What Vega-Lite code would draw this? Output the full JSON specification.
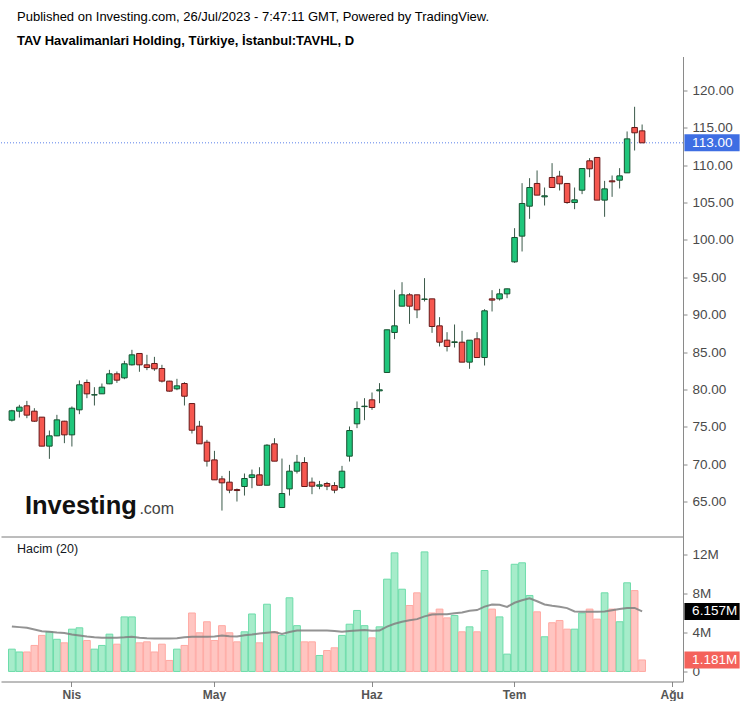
{
"$schema":"https://vega.github.io/schema/vega-lite/v6.json",
"background":"white",
"padding":{"top":10.5,"left":0,"right":0,"bottom":0},
"spacing":0,
"config":{"view":{"stroke":null},"font":"Liberation Sans","axis":{"grid":false,"domainColor":"#8a8a8a","tickColor":"#8a8a8a","labelColor":"#4a4a4a","labelFont":"Liberation Sans","labelFontSize":13.5,"tickSize":4}},
"title":{"text":"Published on Investing.com, 26/Jul/2023 - 7:47:11 GMT, Powered by TradingView.","subtitle":"TAV Havalimanlari Holding, Türkiye, İstanbul:TAVHL, D","anchor":"start","frame":"group","dx":16,"font":"Liberation Sans","fontSize":13,"fontWeight":"normal","color":"#000000","subtitleFont":"Liberation Sans","subtitleFontSize":13,"subtitleFontWeight":"bold","subtitleColor":"#000000","subtitlePadding":11,"offset":9},
"datasets":{"ohlc":[
{"date":"2023-03-22","open":75.89,"high":77.27,"low":75.71,"close":77.14,"volume":2290000,"ma":4620000},
{"date":"2023-03-23","open":77.09,"high":77.94,"low":76.24,"close":77.63,"volume":2000000,"ma":4550000},
{"date":"2023-03-24","open":77.81,"high":78.47,"low":76.15,"close":76.56,"volume":2000000,"ma":4480000},
{"date":"2023-03-27","open":77.09,"high":77.49,"low":75.66,"close":75.75,"volume":2670000,"ma":4300000},
{"date":"2023-03-28","open":76.29,"high":76.3,"low":72.4,"close":72.41,"volume":3700000,"ma":4120000},
{"date":"2023-03-29","open":72.41,"high":74.5,"low":70.71,"close":73.79,"volume":4070000,"ma":4080000},
{"date":"2023-03-30","open":73.79,"high":76.6,"low":73.75,"close":75.93,"volume":3300000,"ma":4000000},
{"date":"2023-03-31","open":75.75,"high":75.8,"low":72.81,"close":73.92,"volume":2940000,"ma":3950000},
{"date":"2023-04-03","open":73.92,"high":77.72,"low":72.36,"close":77.49,"volume":4340000,"ma":3800000},
{"date":"2023-04-04","open":77.27,"high":81.2,"low":76.69,"close":80.62,"volume":4480000,"ma":3700000},
{"date":"2023-04-05","open":80.93,"high":81.33,"low":78.83,"close":79.41,"volume":3180000,"ma":3580000},
{"date":"2023-04-06","open":79.25,"high":80.3,"low":77.85,"close":79.3,"volume":2290000,"ma":3500000},
{"date":"2023-04-07","open":79.41,"high":80.79,"low":79.4,"close":80.3,"volume":2670000,"ma":3450000},
{"date":"2023-04-10","open":80.75,"high":82.62,"low":80.7,"close":82.09,"volume":3830000,"ma":3450000},
{"date":"2023-04-11","open":82.09,"high":82.4,"low":80.88,"close":81.24,"volume":2800000,"ma":3470000},
{"date":"2023-04-12","open":81.55,"high":83.83,"low":81.37,"close":83.43,"volume":5600000,"ma":3500000},
{"date":"2023-04-13","open":83.29,"high":85.3,"low":83.2,"close":84.63,"volume":5600000,"ma":3550000},
{"date":"2023-04-14","open":84.81,"high":84.81,"low":82.36,"close":83.29,"volume":2940000,"ma":3450000},
{"date":"2023-04-17","open":83.29,"high":84.63,"low":82.58,"close":82.93,"volume":3040000,"ma":3400000},
{"date":"2023-04-18","open":83.47,"high":84.36,"low":82.49,"close":82.76,"volume":2000000,"ma":3380000},
{"date":"2023-04-19","open":82.8,"high":83.29,"low":80.93,"close":81.11,"volume":2800000,"ma":3380000},
{"date":"2023-04-20","open":81.11,"high":81.15,"low":79.7,"close":79.77,"volume":1130000,"ma":3380000},
{"date":"2023-04-24","open":80.08,"high":81.42,"low":79.9,"close":80.48,"volume":2290000,"ma":3420000},
{"date":"2023-04-25","open":80.79,"high":80.97,"low":77.85,"close":79.09,"volume":2670000,"ma":3500000},
{"date":"2023-04-26","open":78.11,"high":78.11,"low":74.1,"close":74.54,"volume":6000000,"ma":3550000},
{"date":"2023-04-27","open":75.08,"high":75.79,"low":72.72,"close":72.72,"volume":3970000,"ma":3550000},
{"date":"2023-04-28","open":72.94,"high":73.25,"low":69.68,"close":70.4,"volume":5100000,"ma":3550000},
{"date":"2023-05-02","open":70.57,"high":71.78,"low":67.9,"close":67.9,"volume":3180000,"ma":3600000},
{"date":"2023-05-03","open":68.03,"high":68.43,"low":63.79,"close":67.5,"volume":4700000,"ma":3690000},
{"date":"2023-05-04","open":67.59,"high":69.1,"low":66.11,"close":66.52,"volume":3970000,"ma":3620000},
{"date":"2023-05-05","open":66.6,"high":66.74,"low":65.0,"close":66.47,"volume":3040000,"ma":3600000},
{"date":"2023-05-08","open":67.01,"high":68.75,"low":65.8,"close":68.08,"volume":4070000,"ma":3720000},
{"date":"2023-05-09","open":68.21,"high":69.28,"low":66.78,"close":68.57,"volume":5900000,"ma":3800000},
{"date":"2023-05-10","open":68.57,"high":69.59,"low":67.15,"close":67.18,"volume":2940000,"ma":3900000},
{"date":"2023-05-11","open":67.18,"high":72.67,"low":67.18,"close":72.54,"volume":6900000,"ma":3970000},
{"date":"2023-05-12","open":72.72,"high":73.47,"low":70.4,"close":70.4,"volume":4070000,"ma":4050000},
{"date":"2023-05-15","open":64.2,"high":70.75,"low":64.2,"close":66.07,"volume":3700000,"ma":3850000},
{"date":"2023-05-16","open":66.69,"high":69.91,"low":65.8,"close":69.06,"volume":7560000,"ma":4050000},
{"date":"2023-05-17","open":69.06,"high":71.24,"low":68.75,"close":70.26,"volume":4700000,"ma":4200000},
{"date":"2023-05-18","open":70.22,"high":70.93,"low":67.01,"close":67.01,"volume":3040000,"ma":4200000},
{"date":"2023-05-22","open":67.59,"high":68.21,"low":65.98,"close":67.05,"volume":3040000,"ma":4200000},
{"date":"2023-05-23","open":67.05,"high":67.76,"low":66.65,"close":67.23,"volume":1640000,"ma":4200000},
{"date":"2023-05-24","open":67.41,"high":67.63,"low":66.52,"close":67.05,"volume":2150000,"ma":4200000},
{"date":"2023-05-25","open":67.14,"high":67.59,"low":66.11,"close":66.52,"volume":2430000,"ma":4150000},
{"date":"2023-05-26","open":66.87,"high":69.77,"low":66.69,"close":69.06,"volume":3700000,"ma":4070000},
{"date":"2023-05-29","open":71.07,"high":75.04,"low":70.35,"close":74.5,"volume":4850000,"ma":4150000},
{"date":"2023-05-30","open":75.4,"high":78.39,"low":74.82,"close":77.45,"volume":6260000,"ma":4200000},
{"date":"2023-05-31","open":77.7,"high":78.83,"low":75.89,"close":77.76,"volume":4700000,"ma":4250000},
{"date":"2023-06-01","open":78.61,"high":79.59,"low":77.27,"close":77.58,"volume":3450000,"ma":4170000},
{"date":"2023-06-02","open":79.81,"high":80.84,"low":78.16,"close":79.95,"volume":4580000,"ma":4200000},
{"date":"2023-06-05","open":82.27,"high":88.0,"low":82.27,"close":87.98,"volume":9470000,"ma":4600000},
{"date":"2023-06-06","open":87.62,"high":93.33,"low":86.73,"close":88.51,"volume":12170000,"ma":4900000},
{"date":"2023-06-07","open":91.14,"high":94.35,"low":91.14,"close":92.66,"volume":8440000,"ma":5100000},
{"date":"2023-06-08","open":92.66,"high":92.88,"low":88.78,"close":91.14,"volume":6770000,"ma":5250000},
{"date":"2023-06-09","open":92.66,"high":92.66,"low":89.54,"close":90.65,"volume":8070000,"ma":5370000},
{"date":"2023-06-12","open":92.05,"high":94.89,"low":91.77,"close":92.1,"volume":12270000,"ma":5650000},
{"date":"2023-06-13","open":92.12,"high":92.12,"low":87.57,"close":88.42,"volume":6000000,"ma":5850000},
{"date":"2023-06-14","open":88.51,"high":89.67,"low":85.75,"close":86.32,"volume":6400000,"ma":5880000},
{"date":"2023-06-15","open":86.59,"high":87.66,"low":85.08,"close":85.75,"volume":5500000,"ma":5880000},
{"date":"2023-06-16","open":86.28,"high":88.69,"low":85.61,"close":86.37,"volume":5740000,"ma":5970000},
{"date":"2023-06-19","open":86.32,"high":87.84,"low":83.65,"close":83.65,"volume":4070000,"ma":6050000},
{"date":"2023-06-20","open":83.65,"high":86.6,"low":82.76,"close":86.59,"volume":4580000,"ma":6240000},
{"date":"2023-06-21","open":86.77,"high":87.66,"low":84.27,"close":84.27,"volume":4070000,"ma":6300000},
{"date":"2023-06-22","open":84.27,"high":90.74,"low":83.2,"close":90.52,"volume":10360000,"ma":6650000},
{"date":"2023-06-23","open":92.12,"high":93.28,"low":90.43,"close":91.95,"volume":6400000,"ma":6880000},
{"date":"2023-06-26","open":92.12,"high":93.46,"low":91.9,"close":92.79,"volume":5600000,"ma":6850000},
{"date":"2023-06-27","open":92.79,"high":93.5,"low":92.21,"close":93.46,"volume":1780000,"ma":6630000},
{"date":"2023-07-03","open":97.07,"high":101.58,"low":96.94,"close":100.33,"volume":11000000,"ma":7050000},
{"date":"2023-07-04","open":100.51,"high":107.6,"low":98.46,"close":104.88,"volume":11150000,"ma":7300000},
{"date":"2023-07-05","open":104.52,"high":108.27,"low":102.83,"close":107.02,"volume":7800000,"ma":7500000},
{"date":"2023-07-06","open":107.56,"high":109.3,"low":106.0,"close":106.0,"volume":6120000,"ma":7200000},
{"date":"2023-07-07","open":105.77,"high":107.02,"low":104.61,"close":105.91,"volume":3560000,"ma":6880000},
{"date":"2023-07-10","open":108.36,"high":110.28,"low":107.02,"close":107.02,"volume":5000000,"ma":6750000},
{"date":"2023-07-11","open":108.54,"high":109.25,"low":106.62,"close":107.51,"volume":5230000,"ma":6650000},
{"date":"2023-07-12","open":107.56,"high":107.56,"low":104.84,"close":105.01,"volume":4340000,"ma":6500000},
{"date":"2023-07-13","open":105.01,"high":107.02,"low":104.12,"close":105.37,"volume":4340000,"ma":6150000},
{"date":"2023-07-14","open":106.66,"high":109.56,"low":106.13,"close":109.56,"volume":6000000,"ma":6120000},
{"date":"2023-07-17","open":110.59,"high":110.95,"low":108.4,"close":109.52,"volume":6400000,"ma":6120000},
{"date":"2023-07-18","open":111.04,"high":111.04,"low":105.33,"close":105.33,"volume":5370000,"ma":6120000},
{"date":"2023-07-19","open":105.33,"high":107.91,"low":103.1,"close":106.84,"volume":8070000,"ma":6150000},
{"date":"2023-07-20","open":107.91,"high":108.63,"low":105.77,"close":107.78,"volume":6400000,"ma":6280000},
{"date":"2023-07-21","open":108.0,"high":109.61,"low":106.89,"close":108.58,"volume":5100000,"ma":6400000},
{"date":"2023-07-24","open":108.98,"high":114.52,"low":108.98,"close":113.53,"volume":9100000,"ma":6520000},
{"date":"2023-07-25","open":115.05,"high":117.82,"low":111.97,"close":114.34,"volume":8300000,"ma":6520000},
{"date":"2023-07-26","open":114.6,"high":115.45,"low":113.0,"close":113.0,"volume":1181000,"ma":6157000}
]},
"vconcat":[
{"width":682,"height":480,
"data":{"name":"ohlc"},
"layer":[
{"transform":[{"filter":"datum.date == '2023-07-26'"}],
 "mark":{"type":"rule","color":"#5b80ea","strokeDash":[1,2],"strokeWidth":1},
 "encoding":{"y":{"field":"close","type":"quantitative","scale":{"domain":[60.32,124.55],"nice":false,"zero":false},"title":null,
   "axis":{"orient":"right","values":[65,70,75,80,85,90,95,100,105,110,115,120],"format":".2f","labelPadding":5,"title":null}}}},
{"mark":{"type":"rule","color":"#3b5a4a","strokeWidth":1},
 "encoding":{"x":{"field":"date","type":"ordinal","title":null,
   "scale":{"type":"band","domain":["2023-03-22","2023-03-23","2023-03-24","2023-03-27","2023-03-28","2023-03-29","2023-03-30","2023-03-31","2023-04-03","2023-04-04","2023-04-05","2023-04-06","2023-04-07","2023-04-10","2023-04-11","2023-04-12","2023-04-13","2023-04-14","2023-04-17","2023-04-18","2023-04-19","2023-04-20","2023-04-24","2023-04-25","2023-04-26","2023-04-27","2023-04-28","2023-05-02","2023-05-03","2023-05-04","2023-05-05","2023-05-08","2023-05-09","2023-05-10","2023-05-11","2023-05-12","2023-05-15","2023-05-16","2023-05-17","2023-05-18","2023-05-22","2023-05-23","2023-05-24","2023-05-25","2023-05-26","2023-05-29","2023-05-30","2023-05-31","2023-06-01","2023-06-02","2023-06-05","2023-06-06","2023-06-07","2023-06-08","2023-06-09","2023-06-12","2023-06-13","2023-06-14","2023-06-15","2023-06-16","2023-06-19","2023-06-20","2023-06-21","2023-06-22","2023-06-23","2023-06-26","2023-06-27","2023-07-03","2023-07-04","2023-07-05","2023-07-06","2023-07-07","2023-07-10","2023-07-11","2023-07-12","2023-07-13","2023-07-14","2023-07-17","2023-07-18","2023-07-19","2023-07-20","2023-07-21","2023-07-24","2023-07-25","2023-07-26","2023-07-27","2023-07-28","2023-07-31","2023-08-01"],"paddingInner":0.1,"paddingOuter":1.1},
   "axis":{"labels":false,"ticks":false,"domain":true,"domainColor":"#7a7a7a","title":null}},
  "y":{"field":"low","type":"quantitative","scale":{"domain":[60.32,124.55],"nice":false,"zero":false},"title":null,"axis":{"orient":"right"}},
  "y2":{"field":"high"}}},
{"mark":{"type":"bar","width":{"band":0.82},"strokeWidth":1},
 "encoding":{"x":{"field":"date","type":"ordinal","title":null},
  "y":{"field":"open","type":"quantitative","scale":{"domain":[60.32,124.55],"nice":false,"zero":false},"title":null,"axis":{"orient":"right"}},
  "y2":{"field":"close"},
  "fill":{"condition":{"test":"datum.close >= datum.open","value":"#1fc67b"},"value":"#f6574f"},
  "stroke":{"condition":{"test":"datum.close >= datum.open","value":"#16502f"},"value":"#651818"}}},
{"data":{"values":[{}]},
 "mark":{"type":"text","text":"Investing","font":"Liberation Sans","fontSize":25.5,"fontWeight":"bold","color":"#111111","align":"left","baseline":"alphabetic","dx":-2},
 "encoding":{"x":{"datum":"2023-03-24","type":"ordinal","title":null},"y":{"datum":63.33,"type":"quantitative","title":null,"axis":{"orient":"right"}}}},
{"data":{"values":[{}]},
 "mark":{"type":"text","text":".com","font":"Liberation Sans","fontSize":16,"color":"#444444","align":"left","baseline":"alphabetic"},
 "encoding":{"x":{"datum":"2023-04-14","type":"ordinal","title":null},"y":{"datum":63.33,"type":"quantitative","title":null,"axis":{"orient":"right"}}}},
{"transform":[{"filter":"datum.date == '2023-07-26'"}],
 "mark":{"type":"point","shape":"M0.456,-0.315H2.5V0.315H0.456Z","size":2916,"filled":true,"opacity":1,"strokeWidth":0,"color":"#3e6ee3"},
 "encoding":{"x":{"datum":"2023-08-01","type":"ordinal","title":null},"y":{"field":"close","type":"quantitative","title":null,"axis":{"orient":"right"}}}},
{"transform":[{"filter":"datum.date == '2023-07-26'"}],
 "mark":{"type":"text","align":"left","baseline":"middle","dx":20,"fontSize":13.5,"color":"#ffffff","font":"Liberation Sans"},
 "encoding":{"x":{"datum":"2023-08-01","type":"ordinal","title":null},"y":{"field":"close","type":"quantitative","title":null,"axis":{"orient":"right"}},"text":{"field":"close","type":"quantitative","format":".2f"}}}
]},
{"width":682,"height":145,
"title":{"text":"Hacim (20)","anchor":"start","frame":"group","offset":-19,"dx":16,"fontSize":12.5,"fontWeight":"normal","font":"Liberation Sans","color":"#131722"},
"data":{"name":"ohlc"},
"layer":[
{"mark":{"type":"bar","strokeWidth":1},
 "encoding":{"x":{"field":"date","type":"ordinal","title":null,
   "scale":{"type":"band","domain":["2023-03-22","2023-03-23","2023-03-24","2023-03-27","2023-03-28","2023-03-29","2023-03-30","2023-03-31","2023-04-03","2023-04-04","2023-04-05","2023-04-06","2023-04-07","2023-04-10","2023-04-11","2023-04-12","2023-04-13","2023-04-14","2023-04-17","2023-04-18","2023-04-19","2023-04-20","2023-04-24","2023-04-25","2023-04-26","2023-04-27","2023-04-28","2023-05-02","2023-05-03","2023-05-04","2023-05-05","2023-05-08","2023-05-09","2023-05-10","2023-05-11","2023-05-12","2023-05-15","2023-05-16","2023-05-17","2023-05-18","2023-05-22","2023-05-23","2023-05-24","2023-05-25","2023-05-26","2023-05-29","2023-05-30","2023-05-31","2023-06-01","2023-06-02","2023-06-05","2023-06-06","2023-06-07","2023-06-08","2023-06-09","2023-06-12","2023-06-13","2023-06-14","2023-06-15","2023-06-16","2023-06-19","2023-06-20","2023-06-21","2023-06-22","2023-06-23","2023-06-26","2023-06-27","2023-07-03","2023-07-04","2023-07-05","2023-07-06","2023-07-07","2023-07-10","2023-07-11","2023-07-12","2023-07-13","2023-07-14","2023-07-17","2023-07-18","2023-07-19","2023-07-20","2023-07-21","2023-07-24","2023-07-25","2023-07-26","2023-07-27","2023-07-28","2023-07-31","2023-08-01"],"paddingInner":0.1,"paddingOuter":1.1},
   "axis":{"values":["2023-04-03","2023-05-02","2023-06-01","2023-07-03","2023-08-01"],"labelExpr":"{'2023-04-03':'Nis','2023-05-02':'May','2023-06-01':'Haz','2023-07-03':'Tem','2023-08-01':'Ağu'}[datum.value]","labelAngle":0,"labelFontWeight":"bold","labelColor":"#555555","labelFontSize":12,"tickSize":5,"labelPadding":3,"title":null,"domainColor":"#7a7a7a"}},
  "y":{"field":"volume","type":"quantitative","scale":{"domain":[-1030000,13850000],"nice":false,"zero":false},"title":null,
   "axis":{"orient":"right","values":[0,4000000,8000000,12000000],"labelExpr":"datum.value == 0 ? '0' : format(datum.value / 1000000, 'd') + 'M'","labelPadding":5,"title":null}},
  "fill":{"condition":{"test":"datum.close >= datum.open","value":"#a6ecca"},"value":"#ffc5c1"},
  "stroke":{"condition":{"test":"datum.close >= datum.open","value":"#6ddcaa"},"value":"#ffa9a3"}}},
{"mark":{"type":"line","color":"#808080","strokeWidth":2,"opacity":0.85},
 "encoding":{"x":{"field":"date","type":"ordinal","title":null},
  "y":{"field":"ma","type":"quantitative","scale":{"domain":[-1030000,13850000],"nice":false,"zero":false},"title":null,"axis":{"orient":"right"}}}},
{"transform":[{"filter":"datum.date == '2023-07-26'"}],
 "mark":{"type":"point","shape":"M0.456,-0.315H2.5V0.315H0.456Z","size":2916,"filled":true,"opacity":1,"strokeWidth":0,"color":"#000000"},
 "encoding":{"x":{"datum":"2023-08-01","type":"ordinal","title":null},"y":{"field":"ma","type":"quantitative","title":null,"axis":{"orient":"right"}}}},
{"transform":[{"filter":"datum.date == '2023-07-26'"}],
 "mark":{"type":"text","align":"left","baseline":"middle","dx":20,"fontSize":13.5,"color":"#ffffff","font":"Liberation Sans"},
 "encoding":{"x":{"datum":"2023-08-01","type":"ordinal","title":null},"y":{"field":"ma","type":"quantitative","title":null,"axis":{"orient":"right"}},"text":{"field":"ma","type":"quantitative","format":".4s"}}},
{"transform":[{"filter":"datum.date == '2023-07-26'"}],
 "mark":{"type":"point","shape":"M0.456,-0.315H2.5V0.315H0.456Z","size":2916,"filled":true,"opacity":1,"strokeWidth":0,"color":"#f4625b"},
 "encoding":{"x":{"datum":"2023-08-01","type":"ordinal","title":null},"y":{"field":"volume","type":"quantitative","title":null,"axis":{"orient":"right"}}}},
{"transform":[{"filter":"datum.date == '2023-07-26'"}],
 "mark":{"type":"text","align":"left","baseline":"middle","dx":20,"fontSize":13.5,"color":"#ffffff","font":"Liberation Sans"},
 "encoding":{"x":{"datum":"2023-08-01","type":"ordinal","title":null},"y":{"field":"volume","type":"quantitative","title":null,"axis":{"orient":"right"}},"text":{"field":"volume","type":"quantitative","format":".4s"}}}
]}
]
}
